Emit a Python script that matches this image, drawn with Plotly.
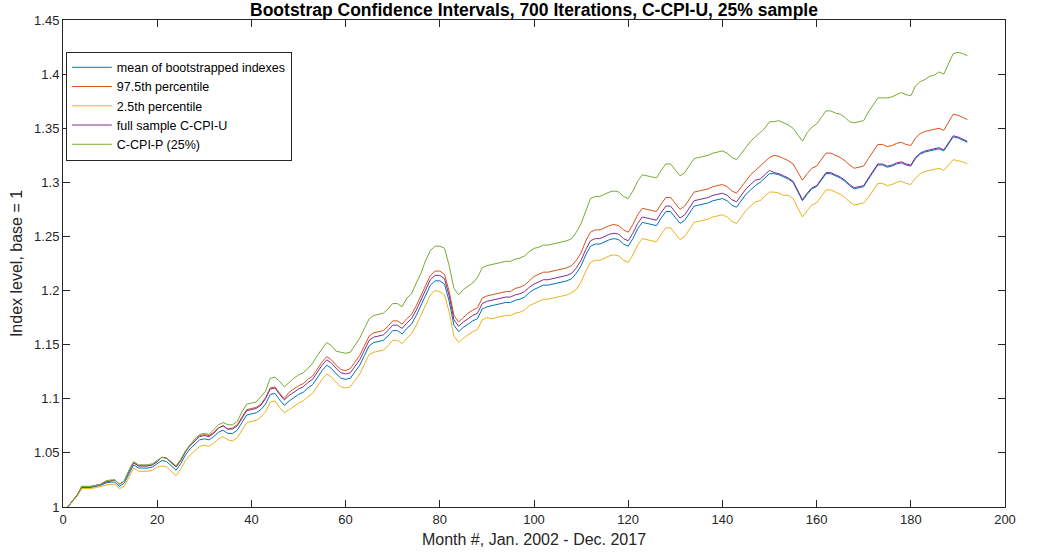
import plotly.graph_objects as go

months = list(range(1, 193))

mean_boot = [1.000,1.005,1.011,1.018,1.018,1.018,1.019,1.020,1.022,1.023,
1.023,1.019,1.022,1.031,1.039,1.036,1.036,1.036,1.037,1.040,
1.043,1.042,1.038,1.034,1.040,1.048,1.054,1.058,1.062,1.063,
1.062,1.065,1.069,1.071,1.068,1.068,1.071,1.078,1.085,1.086,
1.087,1.090,1.095,1.104,1.105,1.099,1.094,1.098,1.101,1.104,
1.106,1.110,1.113,1.120,1.126,1.131,1.128,1.123,1.119,1.118,
1.119,1.125,1.131,1.140,1.149,1.152,1.153,1.154,1.158,1.163,
1.163,1.160,1.165,1.169,1.177,1.186,1.196,1.205,1.209,1.209,
1.206,1.190,1.168,1.162,1.166,1.169,1.172,1.174,1.183,1.185,
1.186,1.187,1.188,1.189,1.189,1.191,1.192,1.194,1.198,1.201,
1.203,1.205,1.205,1.206,1.207,1.208,1.209,1.211,1.216,1.223,
1.233,1.241,1.243,1.243,1.245,1.247,1.248,1.247,1.243,1.241,
1.248,1.257,1.263,1.262,1.261,1.260,1.267,1.273,1.273,1.268,
1.262,1.265,1.272,1.278,1.279,1.280,1.281,1.283,1.284,1.285,
1.283,1.279,1.277,1.283,1.289,1.293,1.297,1.300,1.304,1.308,
1.308,1.307,1.305,1.303,1.300,1.291,1.283,1.289,1.294,1.296,
1.302,1.308,1.308,1.306,1.304,1.301,1.297,1.294,1.295,1.296,
1.303,1.310,1.316,1.316,1.314,1.315,1.317,1.318,1.316,1.315,
1.322,1.326,1.328,1.329,1.330,1.331,1.329,1.336,1.342,1.341,
1.339,1.337]

pct_975 = [1.000,1.005,1.011,1.019,1.019,1.019,1.020,1.021,1.023,1.024,
1.025,1.021,1.024,1.033,1.041,1.038,1.038,1.038,1.039,1.042,
1.046,1.045,1.041,1.037,1.043,1.051,1.057,1.061,1.066,1.067,
1.066,1.069,1.073,1.075,1.072,1.073,1.076,1.083,1.090,1.091,
1.092,1.095,1.101,1.110,1.111,1.105,1.100,1.106,1.109,1.112,
1.114,1.118,1.121,1.128,1.134,1.139,1.136,1.131,1.127,1.126,
1.128,1.134,1.140,1.149,1.158,1.161,1.162,1.163,1.167,1.172,
1.172,1.169,1.174,1.178,1.186,1.195,1.205,1.214,1.218,1.218,
1.215,1.199,1.177,1.171,1.175,1.179,1.182,1.184,1.193,1.195,
1.196,1.197,1.198,1.199,1.199,1.202,1.203,1.205,1.209,1.213,
1.215,1.217,1.217,1.218,1.219,1.220,1.221,1.223,1.228,1.235,
1.246,1.254,1.256,1.256,1.258,1.260,1.261,1.260,1.256,1.254,
1.261,1.270,1.276,1.275,1.274,1.273,1.280,1.286,1.286,1.281,
1.275,1.278,1.285,1.291,1.292,1.293,1.294,1.296,1.297,1.298,
1.296,1.292,1.290,1.296,1.302,1.307,1.311,1.315,1.319,1.323,
1.325,1.324,1.322,1.320,1.317,1.310,1.302,1.308,1.313,1.315,
1.321,1.327,1.327,1.325,1.323,1.320,1.316,1.313,1.314,1.315,
1.322,1.329,1.335,1.335,1.333,1.334,1.336,1.337,1.335,1.334,
1.341,1.345,1.347,1.348,1.349,1.350,1.348,1.356,1.363,1.362,
1.360,1.358]

pct_025 = [1.000,1.005,1.010,1.017,1.017,1.017,1.018,1.019,1.020,1.021,
1.021,1.017,1.019,1.028,1.036,1.033,1.033,1.033,1.034,1.037,
1.038,1.037,1.033,1.029,1.035,1.043,1.048,1.052,1.056,1.057,
1.056,1.059,1.063,1.065,1.062,1.061,1.064,1.071,1.078,1.079,
1.080,1.083,1.088,1.097,1.098,1.092,1.087,1.090,1.093,1.096,
1.098,1.102,1.105,1.112,1.118,1.123,1.120,1.115,1.111,1.110,
1.111,1.117,1.123,1.132,1.141,1.143,1.144,1.145,1.149,1.154,
1.154,1.151,1.156,1.160,1.168,1.177,1.187,1.196,1.200,1.199,
1.196,1.180,1.158,1.152,1.156,1.159,1.162,1.164,1.173,1.175,
1.174,1.175,1.176,1.177,1.177,1.179,1.180,1.182,1.186,1.188,
1.190,1.192,1.192,1.193,1.194,1.195,1.196,1.198,1.201,1.208,
1.218,1.226,1.228,1.228,1.230,1.232,1.233,1.232,1.228,1.226,
1.233,1.242,1.248,1.247,1.246,1.245,1.252,1.258,1.258,1.253,
1.247,1.250,1.257,1.263,1.264,1.265,1.266,1.268,1.269,1.270,
1.268,1.264,1.262,1.268,1.274,1.278,1.282,1.283,1.287,1.291,
1.291,1.290,1.288,1.288,1.285,1.276,1.268,1.274,1.279,1.281,
1.287,1.293,1.293,1.291,1.289,1.286,1.282,1.279,1.280,1.281,
1.286,1.293,1.299,1.299,1.297,1.298,1.300,1.301,1.299,1.298,
1.304,1.308,1.310,1.311,1.312,1.313,1.311,1.316,1.321,1.320,
1.319,1.317]

full_sample = [1.000,1.005,1.011,1.019,1.019,1.019,1.020,1.021,1.023,1.024,
1.025,1.021,1.024,1.033,1.041,1.038,1.038,1.038,1.039,1.042,
1.046,1.045,1.041,1.037,1.043,1.051,1.057,1.061,1.065,1.066,
1.065,1.068,1.073,1.075,1.072,1.072,1.075,1.082,1.089,1.090,
1.091,1.094,1.100,1.109,1.110,1.104,1.099,1.103,1.106,1.109,
1.111,1.115,1.118,1.125,1.131,1.136,1.133,1.128,1.124,1.123,
1.124,1.130,1.136,1.145,1.154,1.157,1.158,1.159,1.163,1.168,
1.168,1.165,1.170,1.174,1.182,1.191,1.201,1.210,1.214,1.214,
1.211,1.195,1.173,1.167,1.171,1.174,1.177,1.179,1.188,1.190,
1.191,1.192,1.193,1.194,1.194,1.196,1.197,1.199,1.203,1.206,
1.208,1.210,1.210,1.211,1.212,1.213,1.214,1.216,1.221,1.228,
1.238,1.246,1.248,1.248,1.250,1.252,1.253,1.252,1.248,1.246,
1.253,1.262,1.268,1.267,1.266,1.265,1.272,1.278,1.278,1.273,
1.267,1.270,1.277,1.283,1.284,1.285,1.286,1.288,1.289,1.290,
1.288,1.284,1.282,1.288,1.294,1.298,1.302,1.303,1.307,1.311,
1.309,1.308,1.306,1.304,1.301,1.292,1.284,1.290,1.295,1.297,
1.303,1.309,1.309,1.307,1.305,1.302,1.298,1.295,1.296,1.297,
1.304,1.311,1.317,1.317,1.315,1.316,1.318,1.319,1.317,1.316,
1.323,1.327,1.329,1.330,1.331,1.332,1.330,1.337,1.343,1.342,
1.340,1.338]

ccpi_p = [1.000,1.005,1.011,1.019,1.019,1.019,1.020,1.021,1.024,1.025,
1.025,1.021,1.024,1.034,1.042,1.039,1.039,1.039,1.040,1.043,
1.046,1.045,1.042,1.038,1.044,1.052,1.058,1.063,1.067,1.068,
1.067,1.072,1.076,1.078,1.076,1.076,1.079,1.088,1.095,1.096,
1.097,1.102,1.107,1.119,1.120,1.116,1.111,1.115,1.119,1.122,
1.124,1.128,1.133,1.140,1.146,1.152,1.149,1.144,1.143,1.142,
1.143,1.149,1.156,1.165,1.174,1.177,1.178,1.179,1.183,1.188,
1.188,1.185,1.193,1.197,1.207,1.216,1.228,1.237,1.241,1.241,
1.239,1.223,1.202,1.196,1.201,1.204,1.207,1.212,1.221,1.223,
1.224,1.225,1.226,1.227,1.227,1.229,1.230,1.232,1.236,1.239,
1.240,1.242,1.242,1.243,1.244,1.245,1.246,1.248,1.254,1.262,
1.274,1.285,1.287,1.287,1.289,1.291,1.292,1.291,1.287,1.285,
1.292,1.301,1.307,1.306,1.305,1.304,1.311,1.317,1.317,1.312,
1.306,1.309,1.316,1.322,1.323,1.324,1.325,1.327,1.328,1.329,
1.327,1.323,1.321,1.327,1.333,1.338,1.342,1.346,1.350,1.356,
1.356,1.357,1.355,1.353,1.350,1.344,1.338,1.346,1.351,1.354,
1.360,1.366,1.366,1.364,1.363,1.360,1.356,1.355,1.356,1.357,
1.365,1.372,1.378,1.378,1.378,1.379,1.381,1.383,1.381,1.380,
1.389,1.393,1.395,1.398,1.399,1.402,1.400,1.410,1.419,1.420,
1.419,1.417]

series_names = ["mean of bootstrapped indexes", "97.5th percentile", "2.5th percentile",
                "full sample C-CPI-U", "C-CPI-P (25%)"]
series_values = [mean_boot, pct_975, pct_025, full_sample, ccpi_p]
series_colors = ["#0072BD", "#D95319", "#EDB120", "#7E2F8E", "#77AC30"]

x_ticks = list(range(0, 201, 20))
y_ticks = [1, 1.05, 1.1, 1.15, 1.2, 1.25, 1.3, 1.35, 1.4, 1.45]

fig = go.Figure()
for name, vals, col in zip(series_names, series_values, series_colors):
    fig.add_trace(go.Scatter(x=months, y=vals, mode="lines", name=name,
                             line=dict(color=col, width=1)))

FONT = "Liberation Sans, Arial, sans-serif"
axis_common = dict(showline=True, linecolor="#262626", linewidth=1, mirror="ticks",
                   ticks="inside", ticklen=7, tickcolor="#262626", showgrid=False,
                   zeroline=False, tickfont=dict(family=FONT, size=13, color="#262626"))

fig.update_layout(
    width=1047, height=558,
    margin=dict(l=63, r=42, t=20, b=37),
    paper_bgcolor="white", plot_bgcolor="white",
    title=dict(text="<b>Bootstrap Confidence Intervals, 700 Iterations, C-CPI-U, 25% sample</b>",
               x=0.5, xref="paper", y=1 - 10 / 558, yref="container", yanchor="middle",
               font=dict(family=FONT, size=17.5, color="black")),
    xaxis=dict(range=[0, 200], tickvals=x_ticks,
               title=dict(text="Month #, Jan. 2002 - Dec. 2017", standoff=8,
                          font=dict(family=FONT, size=16, color="#262626")),
               **axis_common),
    yaxis=dict(range=[1, 1.45], tickvals=y_ticks,
               title=dict(text="Index level, base = 1", standoff=7,
                          font=dict(family=FONT, size=16, color="#262626")),
               **axis_common),
    legend=dict(x=0.003, y=0.935, xanchor="left", yanchor="top",
                bgcolor="white", bordercolor="#262626", borderwidth=1,
                font=dict(family=FONT, size=12.5, color="black"),
                itemwidth=40, tracegroupgap=0),
    showlegend=True,
)

fig.write_html("out.html")
